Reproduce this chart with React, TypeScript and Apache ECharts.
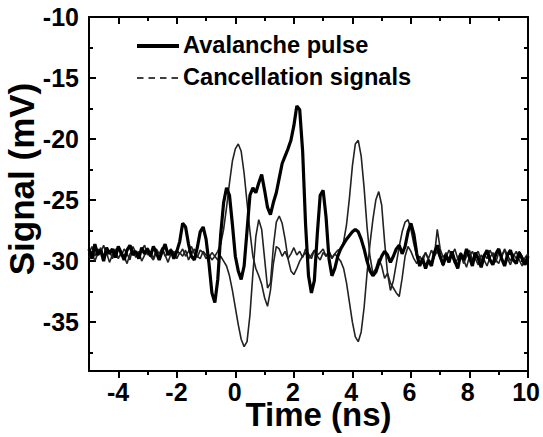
import React, { useEffect, useRef } from "react";
import * as echarts from "echarts";

// Sampling of the oscilloscope traces (ns)
const T_START = -5;
const T_STEP = 0.1;

// Avalanche pulse (thick trace), mV
const avalanche = [
  -29.0, -29.8, -28.6, -29.5, -29.1, -30.0, -28.9, -29.4, -29.0, -29.7,
  -28.8, -29.3, -29.9, -29.1, -28.7, -29.5, -29.2, -29.8, -28.9, -29.4,
  -29.0, -29.6, -28.8, -29.3, -29.9, -29.2, -28.6, -29.5, -29.1, -29.8,
  -29.2, -28.4, -26.9, -27.2, -28.6, -29.6, -29.9, -28.9, -27.6, -27.2,
  -28.2, -30.2, -32.6, -33.4, -31.5, -27.8, -25.2, -24.0, -24.6, -27.0,
  -29.6, -30.8, -31.5, -30.4, -27.5, -24.6, -24.0, -24.4, -23.6, -22.9,
  -24.2, -25.6, -26.2, -25.2, -24.4, -23.2, -22.0, -21.4, -20.8, -20.1,
  -18.9, -17.3, -17.6, -21.0, -27.0, -31.2, -32.6, -31.6, -27.8, -24.6,
  -24.2, -26.4, -29.8, -31.2, -30.6, -29.6, -29.0, -28.6, -28.2, -27.9,
  -27.6, -27.4, -27.6, -28.2, -29.0, -30.0, -30.8, -31.2, -30.9, -30.2,
  -29.6, -29.2, -29.5, -30.1, -29.6, -29.0, -28.7, -29.4, -28.8, -27.6,
  -26.9, -27.8, -29.4, -30.4, -29.8, -30.6, -29.9, -30.4, -29.3, -28.7,
  -29.6, -30.3, -29.5, -30.1, -29.2, -30.0, -30.6, -29.4, -29.9, -29.0,
  -29.7, -30.4, -29.3, -29.8, -30.5, -29.6, -29.1, -29.9, -30.3, -29.4,
  -29.0, -29.8, -30.4, -29.5, -29.1, -29.9, -30.2, -29.3, -29.8, -30.3,
  -29.6,
];

// Cancellation signal with positive pulses (thin trace), mV
const cancelPos = [
  -29.4, -28.8, -29.6, -29.0, -29.3, -28.7, -29.5, -29.1, -29.8, -29.2,
  -28.9, -29.6, -29.0, -29.4, -29.9, -28.8, -29.3, -29.6, -29.1, -28.7,
  -29.5, -29.2, -29.8, -29.0, -29.4, -28.9, -29.6, -29.3, -29.0, -29.5,
  -29.1, -29.4, -29.0, -29.6, -29.2, -28.8, -29.4, -29.7, -29.1, -29.3,
  -29.8, -29.5, -29.9, -29.6, -29.2, -28.6, -27.4, -25.6, -23.6, -21.8,
  -20.8, -20.4, -21.0, -22.8, -25.2, -27.6, -29.6, -30.6, -31.2, -31.9,
  -33.0, -33.7, -32.4, -30.2, -28.8, -29.0, -29.6, -29.2, -29.8, -29.4,
  -28.9, -29.5, -29.2, -29.7, -29.0, -29.4, -29.8, -29.1, -29.5, -29.3,
  -29.0, -29.6, -29.2, -29.7, -29.4, -29.1, -29.0, -28.4, -27.0, -24.8,
  -22.2, -20.4, -20.1, -21.4, -24.0, -27.2, -29.6, -31.0, -30.6, -29.8,
  -30.4, -31.4, -31.0, -31.8, -32.2, -32.6, -32.9, -31.4, -29.6, -28.8,
  -29.2, -29.8, -30.2, -29.6, -30.0, -29.3, -29.8, -29.1, -29.6, -27.4,
  -29.0, -29.7, -29.3, -30.1, -29.5, -29.0, -29.8, -29.4, -30.2, -29.6,
  -29.1, -29.9, -29.5, -29.2, -30.0, -29.4, -29.8, -29.1, -29.6, -30.1,
  -29.3, -29.7, -29.0, -29.5, -30.0, -29.4, -29.8, -29.2, -29.6, -30.1,
  -29.5,
];

// Cancellation signal with negative pulses (thin trace), mV
const cancelNeg = [
  -29.7, -29.2, -30.0, -29.4, -28.9, -29.6, -29.3, -30.1, -29.5, -29.0,
  -29.8, -29.3, -29.6, -30.2, -29.4, -29.1, -29.7, -29.2, -30.0, -29.5,
  -28.9, -29.6, -29.9, -29.3, -29.7, -29.0, -29.5, -30.1, -29.4, -29.2,
  -29.8, -29.3, -29.6, -29.1, -29.9, -29.4, -29.0, -29.6, -29.8, -29.2,
  -29.5, -29.7, -29.3, -29.6, -29.9, -29.6, -30.0, -30.4, -31.2, -32.4,
  -33.8, -35.2, -36.4, -37.0, -36.6, -34.4, -31.0, -28.0, -26.6, -27.4,
  -29.8, -32.2, -31.8, -28.8, -26.8, -26.3, -26.9, -28.2, -29.8, -30.8,
  -31.1, -30.6, -30.0, -29.6, -29.3, -29.8, -29.5, -29.1, -29.6, -29.9,
  -29.3, -29.6, -29.2, -29.8, -29.4, -29.7, -30.0, -30.6, -31.8, -33.4,
  -35.0, -36.2, -36.6, -35.8, -33.8, -31.0, -28.6, -26.6, -25.0, -24.3,
  -25.4, -28.4, -31.0, -32.4, -31.6, -30.2, -28.8, -27.6, -26.8, -26.6,
  -27.4, -28.6, -29.6, -30.2, -29.7, -29.3, -29.9, -30.3, -29.6, -29.2,
  -29.8, -30.4, -29.7, -29.1, -29.6, -30.2, -29.8, -29.3, -29.9, -30.5,
  -29.6, -29.2, -29.8, -30.3, -29.5, -29.9, -30.4, -29.7, -29.3, -29.9,
  -30.2, -29.5, -29.1, -29.8, -30.3, -29.6, -29.2, -29.9, -30.4, -29.7,
  -29.4,
];

// Axis ticks and labels
const X_MIN = -5;
const X_MAX = 10;
const X_LABELS = [-4, -2, 0, 2, 4, 6, 8, 10];
const X_MINOR = [-3, -1, 1, 3, 5, 7, 9];
const Y_MIN = -39;
const Y_MAX = -10;
const Y_LABELS = [-35, -30, -25, -20, -15, -10];
const Y_MINOR = [-37.5, -32.5, -27.5, -22.5, -17.5, -12.5];

const LEGEND_NAMES = ["Avalanche pulse", "Cancellation signals"];
const X_TITLE = "Time (ns)";
const Y_TITLE = "Signal (mV)";

const FONT = "'Liberation Sans', Arial, Helvetica, sans-serif";

function toPairs(vals: number[]) {
  return vals.map((v, i) => [Math.round((T_START + i * T_STEP) * 100) / 100, v]);
}

// frame / tick axes (grid 0, no labels)
function tickX(pos: string, ticks: number[], len: number, inside: boolean, line: boolean) {
  return {
    type: "value",
    gridIndex: 0,
    min: X_MIN,
    max: X_MAX,
    position: pos,
    splitLine: { show: false },
    axisLine: { show: line, onZero: false, lineStyle: { color: "#000", width: 2 } },
    axisTick: { show: true, inside, length: len, customValues: ticks.slice(), lineStyle: { color: "#000", width: 2 } },
    axisLabel: { show: false },
  };
}
function tickY(pos: string, ticks: number[], len: number, line: boolean) {
  return {
    type: "value",
    gridIndex: 0,
    min: Y_MIN,
    max: Y_MAX,
    position: pos,
    splitLine: { show: false },
    axisLine: { show: line, onZero: false, lineStyle: { color: "#000", width: 2 } },
    axisTick: { show: true, inside: true, length: len, customValues: ticks.slice(), lineStyle: { color: "#000", width: 2 } },
    axisLabel: { show: false },
  };
}

function textEl(text: string, x: number, y: number, size: number, align: string, rotation = 0) {
  return {
    type: "text",
    x,
    y,
    rotation,
    style: {
      text,
      fill: "#000",
      fontSize: size,
      fontWeight: "bold",
      fontFamily: FONT,
      verticalAlign: "middle",
      align,
    },
  };
}

export default function App() {
  const ref = useRef<HTMLDivElement>(null);

  useEffect(() => {
    if (!ref.current) return;
    const chart = echarts.init(ref.current, null, { renderer: "svg" });

    const option = {
      animation: false,
      grid: [
        { left: 89, right: 15, top: 17, bottom: 66 },
        { left: 89, right: 15, top: 17, bottom: 66 },
      ],
      xAxis: [
        tickX("bottom", X_LABELS, 7, false, true),
        tickX("bottom", X_MINOR, 4, false, false),
        tickX("top", X_LABELS, 7, true, true),
        tickX("top", X_MINOR, 4, true, false),
        {
          type: "value",
          gridIndex: 1,
          min: X_MIN,
          max: X_MAX,
          position: "bottom",
          splitLine: { show: false },
          axisLine: { show: false, onZero: false },
          axisTick: { show: false },
          axisLabel: {
            show: true,
            customValues: X_LABELS.slice(),
            color: "#000",
            fontSize: 25,
            fontWeight: "bold",
            fontFamily: FONT,
            margin: 8,
          },
        },
      ],
      yAxis: [
        tickY("left", Y_LABELS, 7, true),
        tickY("left", Y_MINOR, 4, false),
        tickY("right", Y_LABELS, 7, true),
        tickY("right", Y_MINOR, 4, false),
        {
          type: "value",
          gridIndex: 1,
          min: Y_MIN,
          max: Y_MAX,
          position: "left",
          splitLine: { show: false },
          axisLine: { show: false, onZero: false },
          axisTick: { show: false },
          axisLabel: {
            show: true,
            customValues: Y_LABELS.slice(),
            color: "#000",
            fontSize: 25,
            fontWeight: "bold",
            fontFamily: FONT,
            margin: 10,
          },
        },
      ],
      series: [
        {
          name: LEGEND_NAMES[1],
          type: "line",
          xAxisIndex: 0,
          yAxisIndex: 0,
          data: toPairs(cancelPos),
          showSymbol: false,
          symbol: "none",
          lineStyle: { color: "#222", width: 1.6 },
        },
        {
          name: LEGEND_NAMES[1] + " (inverted)",
          type: "line",
          xAxisIndex: 0,
          yAxisIndex: 0,
          data: toPairs(cancelNeg),
          showSymbol: false,
          symbol: "none",
          lineStyle: { color: "#222", width: 1.6 },
        },
        {
          name: LEGEND_NAMES[0],
          type: "line",
          xAxisIndex: 0,
          yAxisIndex: 0,
          data: toPairs(avalanche),
          showSymbol: false,
          symbol: "none",
          lineStyle: { color: "#000", width: 3.2 },
        },
      ],
      graphic: [
        {
          type: "line",
          shape: { x1: 137, y1: 46, x2: 179, y2: 46 },
          style: { stroke: "#000", lineWidth: 4 },
        },
        textEl(LEGEND_NAMES[0], 183, 44.7, 23.6, "left"),
        {
          type: "line",
          shape: { x1: 137, y1: 78, x2: 179, y2: 78 },
          style: { stroke: "#000", lineWidth: 1.5, lineDash: [6.5, 5] },
        },
        textEl(LEGEND_NAMES[1], 183, 77, 23.6, "left"),
        textEl(X_TITLE, 318.5, 414.5, 33, "center"),
        textEl(Y_TITLE, 21, 179, 35, "center", Math.PI / 2),
      ],
    };

    chart.setOption(option as any);
    return () => {
      chart.dispose();
    };
  }, []);

  return (
    <div
      ref={ref}
      style={{
        position: "fixed",
        left: 0,
        top: 0,
        width: 543,
        height: 437,
        background: "#fff",
      }}
    />
  );
}
